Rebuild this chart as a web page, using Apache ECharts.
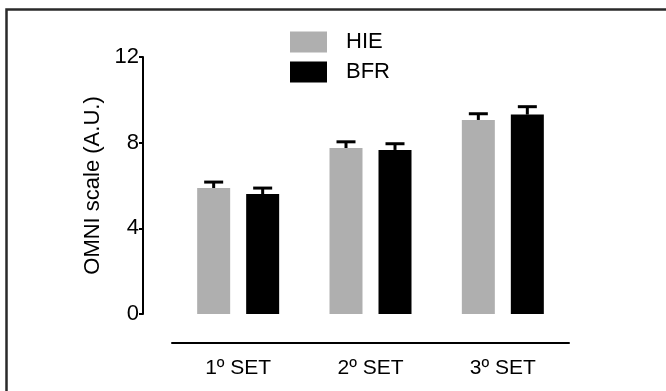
<!DOCTYPE html>
<html>
<head>
<meta charset="utf-8">
<script src="https://cdn.jsdelivr.net/npm/echarts@6/dist/echarts.min.js"></script>
<style>html,body{margin:0;padding:0;background:#fff}#c{width:666px;height:391px}</style>
</head>
<body>
<div id="c"></div>
<script>
const categories = ['1º SET', '2º SET', '3º SET'];
const seriesNames = ['HIE', 'BFR'];
const hieValues = [5.88, 7.75, 9.06];
const hieErrors = [0.28, 0.29, 0.29];
const bfrValues = [5.60, 7.66, 9.31];
const bfrErrors = [0.28, 0.29, 0.37];
const yTicks = [0, 4, 8, 12];

const FONT = '"Liberation Sans", Arial, sans-serif';
const BAR_W = 33, BAR_GAP = 16;
const GRAY = '#afafaf', BLACK = '#000000';

function errSeries(vals, errs, dir) {
  return {
    type: 'custom',
    name: dir < 0 ? 'errHIE' : 'errBFR',
    z: 1,
    silent: true,
    data: vals.map((v, i) => [i, v, v + errs[i]]),
    encode: { x: 0, y: [1, 2] },
    renderItem: function (params, api) {
      const off = dir * (BAR_W / 2 + BAR_GAP / 2);
      const p0 = api.coord([api.value(0), api.value(1)]);
      const p1 = api.coord([api.value(0), api.value(2)]);
      const x = p0[0] + off;
      return {
        type: 'group',
        children: [
          { type: 'line', shape: { x1: x, y1: p0[1], x2: x, y2: p1[1] }, style: { stroke: BLACK, lineWidth: 3 } },
          { type: 'line', shape: { x1: x - 9.5, y1: p1[1], x2: x + 9.5, y2: p1[1] }, style: { stroke: BLACK, lineWidth: 3 } }
        ]
      };
    }
  };
}

const chart = echarts.init(document.getElementById('c'), null, { renderer: 'canvas' });
chart.setOption({
  animation: false,
  backgroundColor: '#fff',
  textStyle: { fontFamily: FONT },
  graphic: [{
    type: 'rect', shape: { x: 6.5, y: 9.5, width: 720, height: 420 },
    style: { fill: 'none', stroke: '#2a2a2a', lineWidth: 2.5 }, silent: true
  }],
  legend: {
    data: seriesNames,
    orient: 'vertical',
    left: 290, top: 31,
    itemWidth: 37, itemHeight: 21, itemGap: 8,
    icon: 'rect',
    padding: 0,
    textStyle: { fontSize: 22, color: '#000', fontFamily: FONT, padding: [0, 0, 0, 14] }
  },
  grid: { left: 172, right: 97, top: 57, bottom: 77, containLabel: false },
  xAxis: {
    type: 'category',
    data: categories,
    offset: 29,
    axisLine: { onZero: false, lineStyle: { color: '#000', width: 2 } },
    axisTick: { alignWithLabel: true, length: 5, lineStyle: { color: '#000', width: 2 } },
    axisLabel: { fontSize: 21, color: '#000', margin: 15, fontFamily: FONT },
    splitLine: { show: false }
  },
  yAxis: {
    type: 'value',
    min: 0, max: 12, interval: 4,
    offset: 29,
    name: 'OMNI scale (A.U.)',
    nameLocation: 'middle',
    nameGap: 37,
    nameTextStyle: { fontSize: 22, color: '#000', fontFamily: FONT },
    axisLine: { show: true, lineStyle: { color: '#000', width: 2 } },
    axisTick: { show: true, length: 4, lineStyle: { color: '#000', width: 2 } },
    axisLabel: { fontSize: 22, color: '#000', margin: 4, fontFamily: FONT,
      formatter: v => yTicks.includes(v) ? String(v) : '' },
    splitLine: { show: false }
  },
  series: [
    { name: 'HIE', type: 'bar', data: hieValues, barWidth: BAR_W, barGap: (BAR_GAP / BAR_W * 100) + '%',
      itemStyle: { color: GRAY }, z: 2 },
    { name: 'BFR', type: 'bar', data: bfrValues, barWidth: BAR_W,
      itemStyle: { color: BLACK }, z: 2 },
    errSeries(hieValues, hieErrors, -1),
    errSeries(bfrValues, bfrErrors, 1)
  ]
});
</script>
</body>
</html>
